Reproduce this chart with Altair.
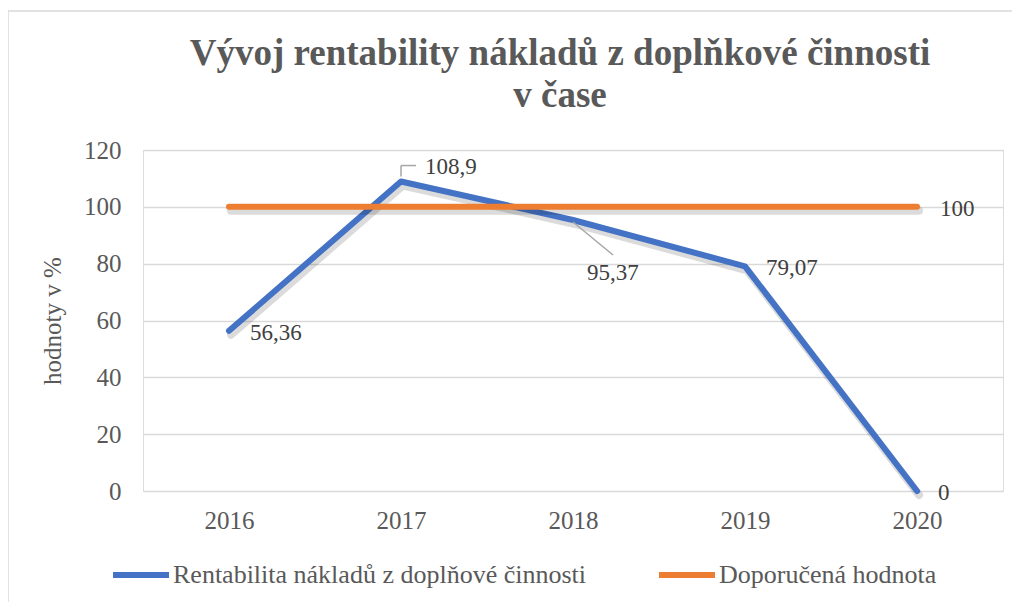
import altair as alt
import pandas as pd

years = ["2016", "2017", "2018", "2019", "2020"]
rentabilita = [56.36, 108.9, 95.37, 79.07, 0]
doporucena = [100, 100, 100, 100, 100]
rent_labels = ["56,36", "108,9", "95,37", "79,07", "0"]
dop_labels = ["", "", "", "", "100"]
series_names = ["Rentabilita nákladů z doplňové činnosti", "Doporučená hodnota"]
series_colors = ["#4472C4", "#ED7D31"]
y_ticks = [0, 20, 40, 60, 80, 100, 120]

title_lines = ["Vývoj rentability nákladů z doplňkové činnosti", "v čase"]
y_title = "hodnoty v %"

FONT = "Liberation Serif"
TXT = "#595959"

df = pd.DataFrame({
    "rok": years * 2,
    "hodnota": rentabilita + doporucena,
    "label": rent_labels + dop_labels,
    "serie": [series_names[0]] * 5 + [series_names[1]] * 5,
})

x_enc = alt.X("rok:N", scale=alt.Scale(type="point", padding=0.5),
              axis=alt.Axis(title=None, labelAngle=0, labelFontSize=25, labelFont=FONT,
                            labelColor=TXT, labelPadding=17, ticks=False, domain=False,
                            grid=False))
y_enc = alt.Y("hodnota:Q", scale=alt.Scale(domain=[0, 120], nice=False),
              axis=alt.Axis(title=y_title, values=y_ticks, labelFontSize=25, labelFont=FONT,
                            labelColor=TXT, labelPadding=22, ticks=False, domain=False,
                            gridColor="#D9D9D9", gridWidth=1.5,
                            titleFont=FONT, titleFontSize=25, titleFontWeight="normal",
                            titleColor=TXT, titlePadding=18))
color_enc = alt.Color("serie:N",
                      scale=alt.Scale(domain=series_names, range=series_colors),
                      sort=series_names,
                      legend=alt.Legend(title=None, orient="none", direction="horizontal",
                                        legendX=-33, legendY=394,
                                        symbolType="stroke", symbolStrokeWidth=6,
                                        symbolSize=3136, labelFont=FONT, labelFontSize=26,
                                        labelColor=TXT, labelLimit=700, columnPadding=60,
                                        labelOffset=1))

base = alt.Chart(df)

frame = alt.Chart(pd.DataFrame({"k": [0]})).mark_rect(
    fillOpacity=0, stroke="#D9D9D9", strokeWidth=1.5
).encode(x=alt.value(-135), x2=alt.value(890), y=alt.value(-139), y2=alt.value(470))

blue = base.transform_filter(alt.datum.serie == series_names[0])
orange = base.transform_filter(alt.datum.serie == series_names[1])

shadow_b = blue.mark_line(color="#000000", opacity=0.14, strokeWidth=8, strokeCap="round",
                          strokeJoin="round", xOffset=2, yOffset=4).encode(x=x_enc, y=y_enc)
shadow_o = orange.mark_line(color="#000000", opacity=0.14, strokeWidth=8, strokeCap="round",
                            xOffset=2, yOffset=4).encode(x=x_enc, y=y_enc)
line_b = blue.mark_line(strokeWidth=6, strokeCap="round", strokeJoin="round").encode(
    x=x_enc, y=y_enc, color=color_enc)
line_o = orange.mark_line(strokeWidth=6, strokeCap="round").encode(
    x=x_enc, y=y_enc, color=color_enc)

text_style = dict(font=FONT, fontSize=23, color="#404040", align="left", baseline="middle")

lab_right = blue.transform_filter(
    alt.FieldOneOfPredicate(field="rok", oneOf=["2016", "2019", "2020"])
).mark_text(dx=21, dy=2, **text_style).encode(x=x_enc, y=y_enc, text="label:N")
lab_2017 = blue.transform_filter(alt.datum.rok == "2017").mark_text(
    dx=24, dy=-15, **text_style).encode(x=x_enc, y=y_enc, text="label:N")
lab_2018 = blue.transform_filter(alt.datum.rok == "2018").mark_text(
    dx=14, dy=53, **text_style).encode(x=x_enc, y=y_enc, text="label:N")
lab_o = orange.transform_filter(alt.datum.rok == "2020").mark_text(
    dx=23, dy=2, **text_style).encode(x=x_enc, y=y_enc, text="label:N")

lead_v = blue.transform_filter(alt.datum.rok == "2017").mark_rule(
    color="#A6A6A6", strokeWidth=1.5, yOffset=-5, y2Offset=-16).encode(
    x=x_enc, y=y_enc, y2="hodnota:Q")
lead_h = blue.transform_filter(alt.datum.rok == "2017").mark_rule(
    color="#A6A6A6", strokeWidth=1.5, yOffset=-16, y2Offset=-16, x2Offset=15).encode(
    x=x_enc, x2="rok:N", y=y_enc, y2="hodnota:Q")
lead_d = blue.transform_filter(alt.datum.rok == "2018").mark_rule(
    color="#A6A6A6", strokeWidth=1.5, yOffset=2, y2Offset=35, x2Offset=40).encode(
    x=x_enc, x2="rok:N", y=y_enc, y2="hodnota:Q")

chart = alt.layer(
    frame, shadow_b, line_b, shadow_o, line_o, lead_v, lead_h, lead_d,
    lab_right, lab_2017, lab_2018, lab_o
).properties(
    width=860, height=341,
    title=alt.TitleParams(text=title_lines, font=FONT, fontSize=37, fontWeight="bold",
                          color=TXT, anchor="middle", dx=-13, offset=0, dy=105,
                          lineHeight=42),
    autosize=alt.AutoSizeParams(type="none"),
    padding={"left": 135, "top": 142, "right": 9, "bottom": 111},
).configure_view(stroke=None).configure(background="white", font=FONT).configure_axis(
    labelFont=FONT, titleFont=FONT
).configure_legend(labelFont=FONT).configure_text(font=FONT)

chart.save("out.html", embed_options={"renderer": "svg", "actions": False})
